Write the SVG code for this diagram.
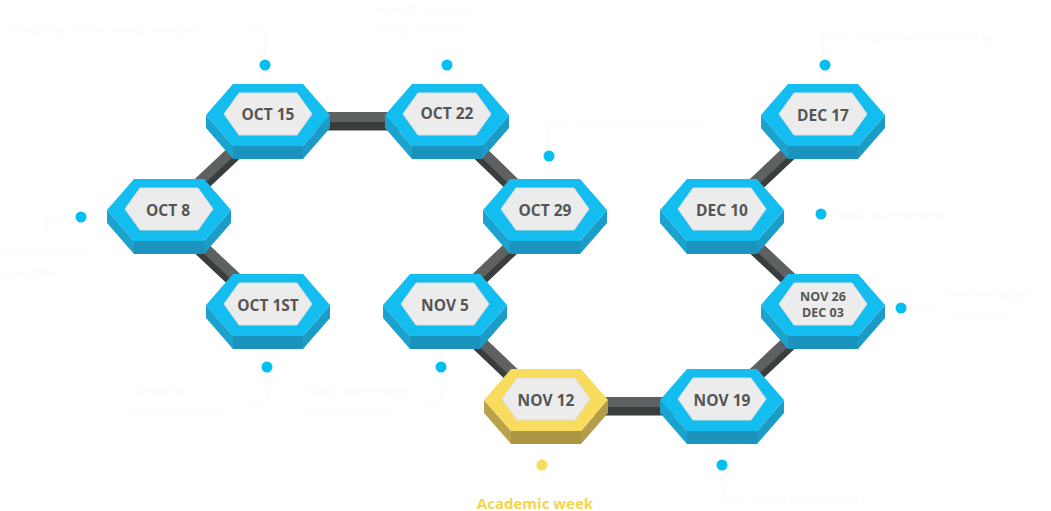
<svg xmlns="http://www.w3.org/2000/svg" xmlns:xlink="http://www.w3.org/1999/xlink" width="1051" height="511" viewBox="0 0 1051 511">
<style>
.bg{fill:#ffffff}
.bar-d{stroke:#3a3d3d;stroke-width:9;stroke-linecap:butt;fill:none}
.bar-l{stroke:#5d6161;stroke-width:10;stroke-linecap:butt;fill:none}
.b-top{fill:#13bdf0}
.b-left{fill:#1ba3cf}
.b-front{fill:#1a94bc}
.b-right{fill:#1a9cc7}
.y-top{fill:#f8dc5e}
.y-left{fill:#b9a24c}
.y-front{fill:#ab9646}
.y-right{fill:#b39d4a}
.inner{fill:#ececec;stroke:#dedede;stroke-width:1}
.lbl{font-family:"Open Sans","Liberation Sans",sans-serif;font-weight:700;font-size:15.5px;fill:#555555;text-anchor:middle}
.lbl-s{font-size:12.5px}
.dot{fill:#04bff2}
.ydot{fill:#f8dc5e}
.ghost{font-family:"Open Sans","Liberation Sans",sans-serif;font-size:14.5px;fill:#fdfdfd}
.g2{font-size:14px}
.lead{stroke:#fcfcfc;stroke-width:2;fill:none}
.acad{font-family:"Open Sans","Liberation Sans",sans-serif;font-weight:700;font-size:15px;fill:#f5d54c;text-anchor:middle}
</style>
<defs>
<g id="hexBlue">
<polygon class="b-left" points="-62,0 -35,31 -35,44 -62,13"/>
<polygon class="b-front" points="-35,31 35,31 35,44 -35,44"/>
<polygon class="b-right" points="35,31 62,0 62,13 35,44"/>
<polygon class="b-top" points="-62,0 -35,-31 35,-31 62,0 35,31 -35,31"/>
<polygon class="inner" points="-44,-1 -29,-22 29,-22 44,-1 29,20 -29,20"/>
</g>
<g id="hexYellow">
<polygon class="y-left" points="-62,0 -35,31 -35,44 -62,13"/>
<polygon class="y-front" points="-35,31 35,31 35,44 -35,44"/>
<polygon class="y-right" points="35,31 62,0 62,13 35,44"/>
<polygon class="y-top" points="-62,0 -35,-31 35,-31 62,0 35,31 -35,31"/>
<polygon class="inner" points="-44,-1 -29,-22 29,-22 44,-1 29,20 -29,20"/>
</g>
</defs>
<rect class="bg" x="0" y="0" width="1051" height="511"/>

<g id="annotations">
<path class="lead" d="M265,58 V30 H247"/>
<text class="ghost" x="12" y="35">Viability of the meta-analysis</text>
<path class="lead" d="M448,58 V43"/>
<text class="ghost g2" x="373" y="14">Search strategy /</text>
<text class="ghost g2" x="373" y="34">study protocol</text>
<path class="lead" d="M547,150 V123 H570"/>
<text class="ghost" x="578" y="127">Medical databases</text>
<path class="lead" d="M823,57 V33 H847"/>
<text class="ghost" x="858" y="42">Implementation day</text>
<path class="lead" d="M75,217 H47 V235"/>
<text class="ghost g2" x="2" y="257">The research</text>
<text class="ghost g2" x="2" y="277">question</text>
<text class="ghost" x="835" y="220">Risk assessment</text>
<path class="lead" d="M910,308 H935"/>
<text class="ghost g2" x="948" y="299">Meta-analysis</text>
<text class="ghost g2" x="948" y="319">statistics</text>
<path class="lead" d="M267,375 V402 H248"/>
<text class="ghost g2" x="133" y="396">Ideas for</text>
<text class="ghost g2" x="133" y="416">meta-analysis</text>
<path class="lead" d="M442,375 V402 H422"/>
<text class="ghost g2" x="303" y="396">Study screening</text>
<text class="ghost g2" x="303" y="416">and selection</text>
<path class="lead" d="M723,473 V500 H743"/>
<text class="ghost" x="755" y="503">Data extraction</text>
<path class="lead" d="M542,472 V485"/>
</g>

<g id="connectors">
<g transform="translate(0,11)">
<line class="bar-d" x1="268" y1="305" x2="167" y2="210"/>
<line class="bar-d" x1="167" y1="210" x2="268" y2="115"/>
<line class="bar-d" x1="268" y1="115" x2="447" y2="115"/>
<line class="bar-d" x1="447" y1="115" x2="545" y2="210"/>
<line class="bar-d" x1="545" y1="210" x2="445" y2="305"/>
<line class="bar-d" x1="445" y1="305" x2="545" y2="400"/>
<line class="bar-d" x1="545" y1="400" x2="722" y2="400"/>
<line class="bar-d" x1="722" y1="400" x2="823" y2="305"/>
<line class="bar-d" x1="823" y1="305" x2="722" y2="210"/>
<line class="bar-d" x1="722" y1="210" x2="823" y2="115"/>
</g>
<g transform="translate(0,2)">
<line class="bar-l" x1="268" y1="305" x2="167" y2="210"/>
<line class="bar-l" x1="167" y1="210" x2="268" y2="115"/>
<line class="bar-l" x1="268" y1="115" x2="447" y2="115"/>
<line class="bar-l" x1="447" y1="115" x2="545" y2="210"/>
<line class="bar-l" x1="545" y1="210" x2="445" y2="305"/>
<line class="bar-l" x1="445" y1="305" x2="545" y2="400"/>
<line class="bar-l" x1="545" y1="400" x2="722" y2="400"/>
<line class="bar-l" x1="722" y1="400" x2="823" y2="305"/>
<line class="bar-l" x1="823" y1="305" x2="722" y2="210"/>
<line class="bar-l" x1="722" y1="210" x2="823" y2="115"/>
</g>
</g>

<g id="node-oct1st"><use xlink:href="#hexBlue" x="268" y="305"/><text class="lbl" x="268" y="311">OCT 1ST</text><circle class="dot" cx="267" cy="367" r="5.5"/></g>
<g id="node-oct8"><use xlink:href="#hexBlue" x="169" y="210"/><text class="lbl" x="168" y="216">OCT 8</text><circle class="dot" cx="81" cy="217" r="5.5"/></g>
<g id="node-oct15"><use xlink:href="#hexBlue" x="268" y="115"/><text class="lbl" x="268" y="120">OCT 15</text><circle class="dot" cx="265" cy="65" r="5.5"/></g>
<g id="node-oct22"><use xlink:href="#hexBlue" x="447" y="115"/><text class="lbl" x="447" y="119">OCT 22</text><circle class="dot" cx="447" cy="65" r="5.5"/></g>
<g id="node-oct29"><use xlink:href="#hexBlue" x="545" y="210"/><text class="lbl" x="545" y="216">OCT 29</text><circle class="dot" cx="549" cy="156" r="5.5"/></g>
<g id="node-nov5"><use xlink:href="#hexBlue" x="445" y="305"/><text class="lbl" x="445" y="311">NOV 5</text><circle class="dot" cx="441" cy="367" r="5.5"/></g>
<g id="node-nov12"><use xlink:href="#hexYellow" x="546" y="400"/><text class="lbl" x="546" y="406">NOV 12</text><circle class="ydot" cx="542" cy="465" r="5.5"/></g>
<g id="node-nov19"><use xlink:href="#hexBlue" x="722" y="400"/><text class="lbl" x="722" y="406">NOV 19</text><circle class="dot" cx="722" cy="465" r="5.5"/></g>
<g id="node-nov26"><use xlink:href="#hexBlue" x="823" y="305"/><text class="lbl lbl-s" x="823" y="301">NOV 26</text><text class="lbl lbl-s" x="823" y="317">DEC 03</text><circle class="dot" cx="901" cy="308" r="5.5"/></g>
<g id="node-dec10"><use xlink:href="#hexBlue" x="722" y="210"/><text class="lbl" x="722" y="216">DEC 10</text><circle class="dot" cx="821" cy="214" r="5.5"/></g>
<g id="node-dec17"><use xlink:href="#hexBlue" x="823" y="115"/><text class="lbl" x="823" y="121">DEC 17</text><circle class="dot" cx="825" cy="65" r="5.5"/></g>

<text class="acad" x="535" y="509">Academic week</text>
</svg>
